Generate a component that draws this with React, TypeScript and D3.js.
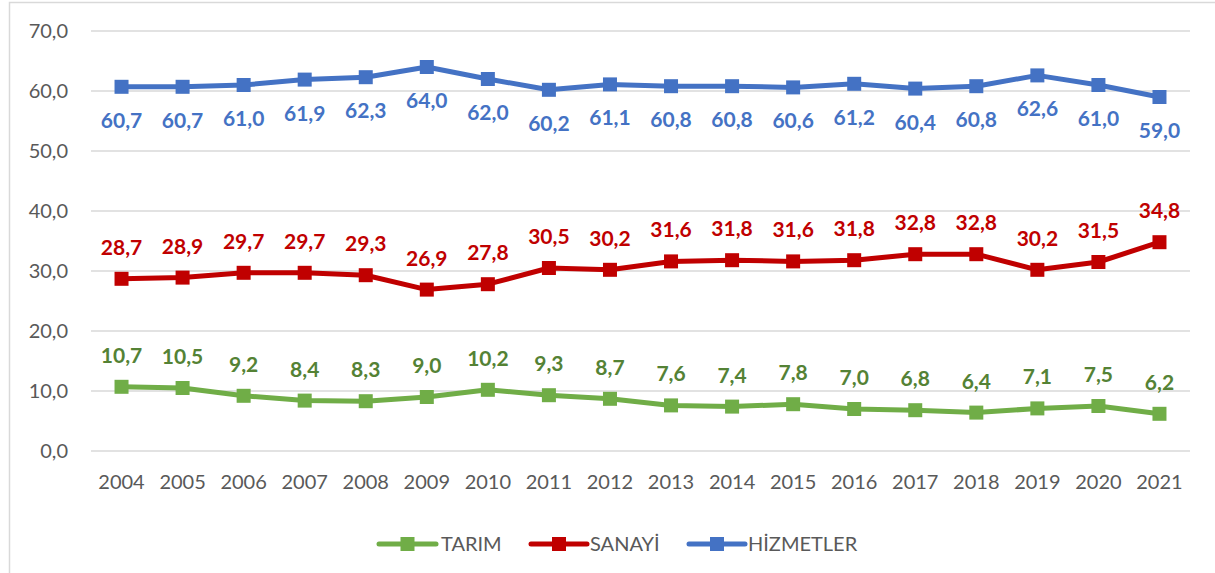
import React from "react";
import * as d3 from "d3";

const years = ["2004","2005","2006","2007","2008","2009","2010","2011","2012","2013","2014","2015","2016","2017","2018","2019","2020","2021"];
const tarim = [10.7,10.5,9.2,8.4,8.3,9.0,10.2,9.3,8.7,7.6,7.4,7.8,7.0,6.8,6.4,7.1,7.5,6.2];
const sanayi = [28.7,28.9,29.7,29.7,29.3,26.9,27.8,30.5,30.2,31.6,31.8,31.6,31.8,32.8,32.8,30.2,31.5,34.8];
const hizmetler = [60.7,60.7,61.0,61.9,62.3,64.0,62.0,60.2,61.1,60.8,60.8,60.6,61.2,60.4,60.8,62.6,61.0,59.0];
const yTicks = [0,10,20,30,40,50,60,70];
const seriesNames = ["TARIM","SANAYİ","HİZMETLER"];

const W = 1215, H = 573;
const left = 91, right = 1190, top = 31, bottom = 451;

export default function App() {
  const x = d3.scaleBand<string>().domain(years).range([left, right]);
  const y = d3.scaleLinear().domain([0, 70]).range([bottom, top]);
  const cx = (yr: string) => (x(yr) as number) + x.bandwidth() / 2;
  const fmt = (v: number) => v.toFixed(1).replace(".", ",");
  const line = d3.line<number>().x((_, i) => cx(years[i])).y((d) => y(d));

  const series = [
    { name: seriesNames[0], data: tarim, color: "#70AD47", label: "#548235", dy: -24 },
    { name: seriesNames[1], data: sanayi, color: "#C00000", label: "#C00000", dy: -24 },
    { name: seriesNames[2], data: hizmetler, color: "#4472C4", label: "#4472C4", dy: 41 },
  ];

  const legend = [
    { x1: 379, x2: 436, tx: 441 },
    { x1: 531, x2: 587, tx: 590 },
    { x1: 689, x2: 745, tx: 748 },
  ];
  const ly = 544;

  return (
    <svg width={W} height={H} style={{ position: "absolute", left: 0, top: 0 }} fontFamily="Lato, 'Open Sans', sans-serif">
      <rect x={0} y={0} width={W} height={H} fill="#fff" />
      <path d={`M9.5,${H + 5} L9.5,2.5 L${W + 5},2.5`} fill="none" stroke="#D9D9D9" strokeWidth={1.5} />
      {yTicks.map((t) => (
        <g key={t}>
          <line x1={left} x2={right} y1={y(t)} y2={y(t)} stroke="#D9D9D9" strokeWidth={1.5} />
          <text x={68} y={y(t) + 7} textAnchor="end" fontSize={20} fill="#595959">{fmt(t)}</text>
        </g>
      ))}
      {years.map((yr) => (
        <text key={yr} x={cx(yr)} y={489} textAnchor="middle" fontSize={20} fill="#595959">{yr}</text>
      ))}
      {series.map((s) => (
        <g key={s.name}>
          <path d={line(s.data) || ""} fill="none" stroke={s.color} strokeWidth={5} strokeLinejoin="round" />
          {s.data.map((v, i) => (
            <rect key={i} x={cx(years[i]) - 7} y={y(v) - 7} width={14} height={14} fill={s.color} />
          ))}
          {s.data.map((v, i) => (
            <text key={"l" + i} x={cx(years[i])} y={y(v) + s.dy} textAnchor="middle" fontSize={21} fontWeight="bold" fill={s.label}>{fmt(v)}</text>
          ))}
        </g>
      ))}
      {series.map((s, i) => (
        <g key={"lg" + i}>
          <line x1={legend[i].x1} x2={legend[i].x2} y1={ly} y2={ly} stroke={s.color} strokeWidth={5} strokeLinecap="round" />
          <rect x={(legend[i].x1 + legend[i].x2) / 2 - 7} y={ly - 7} width={14} height={14} fill={s.color} />
          <text x={legend[i].tx} y={ly + 7} fontSize={20} fill="#595959">{s.name}</text>
        </g>
      ))}
    </svg>
  );
}
